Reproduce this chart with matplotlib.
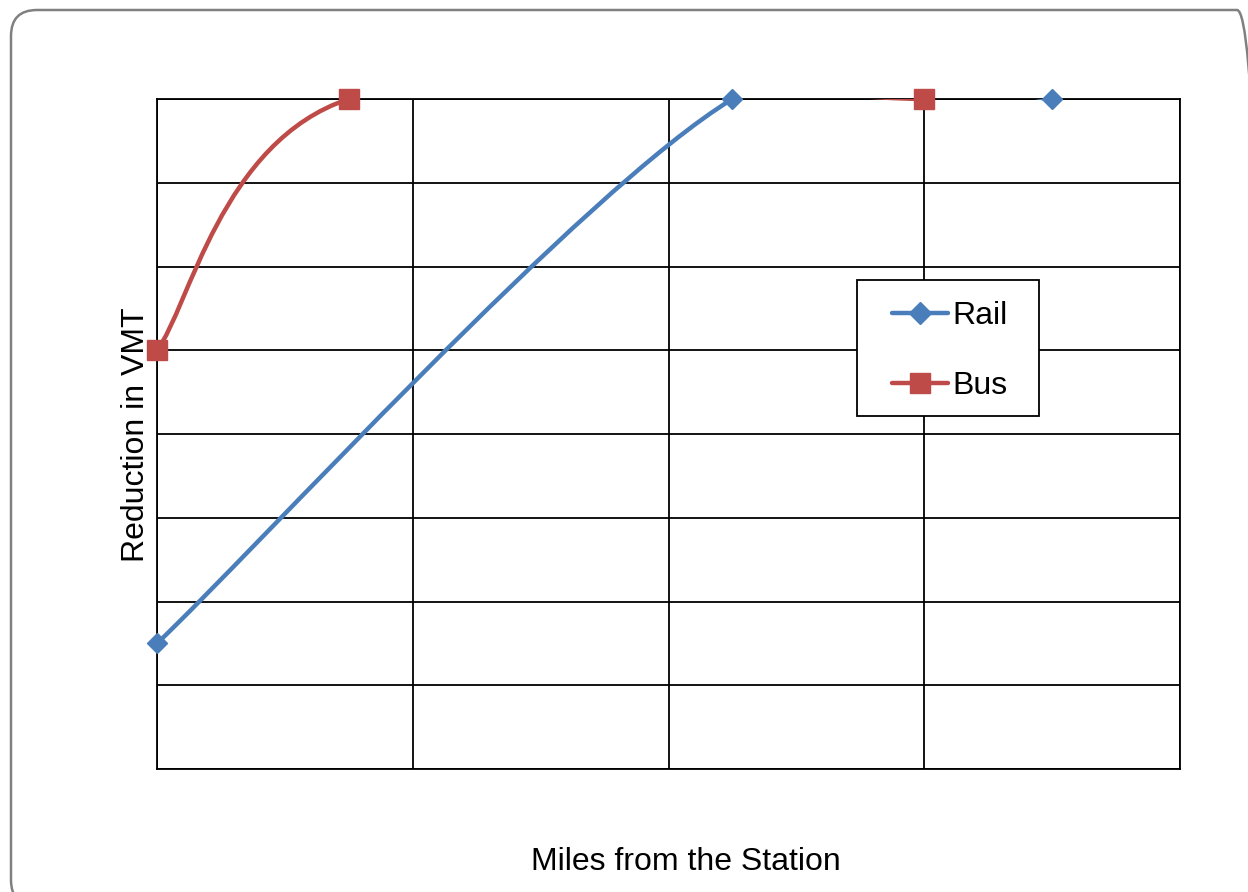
import numpy as np
import matplotlib
matplotlib.use("Agg")
from matplotlib import pyplot as plt
from matplotlib.path import Path
from matplotlib.patches import PathPatch, FancyBboxPatch, Rectangle
from matplotlib.lines import Line2D

plt.rcParams['font.family'] = ['Liberation Sans', 'DejaVu Sans']

# miles from station (grid step = 1) and VMT reduction (grid step = 1)
rail_x = [0.0, 2.25, 3.5]
rail_y = [1.5, 8.0, 8.0]
bus_x = [0.0, 0.75, 3.0]
bus_y = [5.0, 8.0, 8.0]

rail_color = '#4A7EBB'
bus_color = '#BE4B48'


def smooth_path(xs, ys):
	# catmull-rom style bezier through the points, like a "smoothed line"
	p = np.column_stack([xs, ys])
	n = len(p)
	verts = [p[0]]
	codes = [Path.MOVETO]
	for i in range(n - 1):
		prev = p[max(i - 1, 0)]
		nxt = p[min(i + 2, n - 1)]
		c1 = p[i] + (p[i + 1] - prev) / 6
		c2 = p[i + 1] - (nxt - p[i]) / 6
		verts += [c1, c2, p[i + 1]]
		codes += [Path.CURVE4] * 3
	return Path(verts, codes)


fig = plt.figure(figsize=(12.48, 8.92), dpi=100)
W, H = 1248, 892

# rounded chart border, in pixels
border = FancyBboxPatch((11, -14), 1252, 896,
	boxstyle="round,pad=0,rounding_size=26", transform=None,
	facecolor='none', edgecolor='#808080', linewidth=1.8, zorder=0)
fig.patches.append(border)

ax = fig.add_axes([157 / W, 1 - 769 / H, (1180 - 157) / W, (769 - 99) / H])
ax.set_xlim(0, 4)
ax.set_ylim(0, 8)
ax.set_xticks(np.arange(0, 5, 1))
ax.set_yticks(np.arange(0, 9, 1))
ax.tick_params(length=0, labelbottom=False, labelleft=False)
ax.grid(True, color='black', linewidth=1.3)
for s in ax.spines.values():
	s.set_color('black')
	s.set_linewidth(1.3)

for xs, ys, col, mk, ms in [(rail_x, rail_y, rail_color, 'D', 10),
		(bus_x, bus_y, bus_color, 's', 14)]:
	ax.add_patch(PathPatch(smooth_path(xs, ys), facecolor='none', edgecolor=col,
		linewidth=3.2, capstyle='round', zorder=3))
	ax.plot(xs, ys, linestyle='none', marker=mk, markersize=ms, color=col,
		clip_on=False, zorder=4)

# legend box drawn separately so the padding can be wider than tall
fig.patches.append(Rectangle((857 / W, 1 - 416 / H), 182 / W, 136 / H,
	transform=fig.transFigure, facecolor='white', edgecolor='black',
	linewidth=1.3, zorder=5))
handles = [Line2D([], [], color=rail_color, linewidth=3.2, marker='D', markersize=11,
		solid_capstyle='round'),
	Line2D([], [], color=bus_color, linewidth=3.2, marker='s', markersize=14,
		solid_capstyle='round')]
leg = fig.legend(handles, ['Rail', 'Bus'], loc='center',
	bbox_to_anchor=(950 / W, 1 - 351 / H), fontsize=23, frameon=False,
	handlelength=1.75, handletextpad=0.15, labelspacing=1.25,
	borderpad=0, borderaxespad=0)
leg.set_zorder(6)

fig.text(686 / W, 1 - 862 / H, 'Miles from the Station', fontsize=23,
	ha='center', va='center')
fig.text(136 / W, 1 - 435 / H, 'Reduction in VMT', fontsize=23,
	ha='center', va='center', rotation=90)

fig.savefig('out.png', dpi=100)
